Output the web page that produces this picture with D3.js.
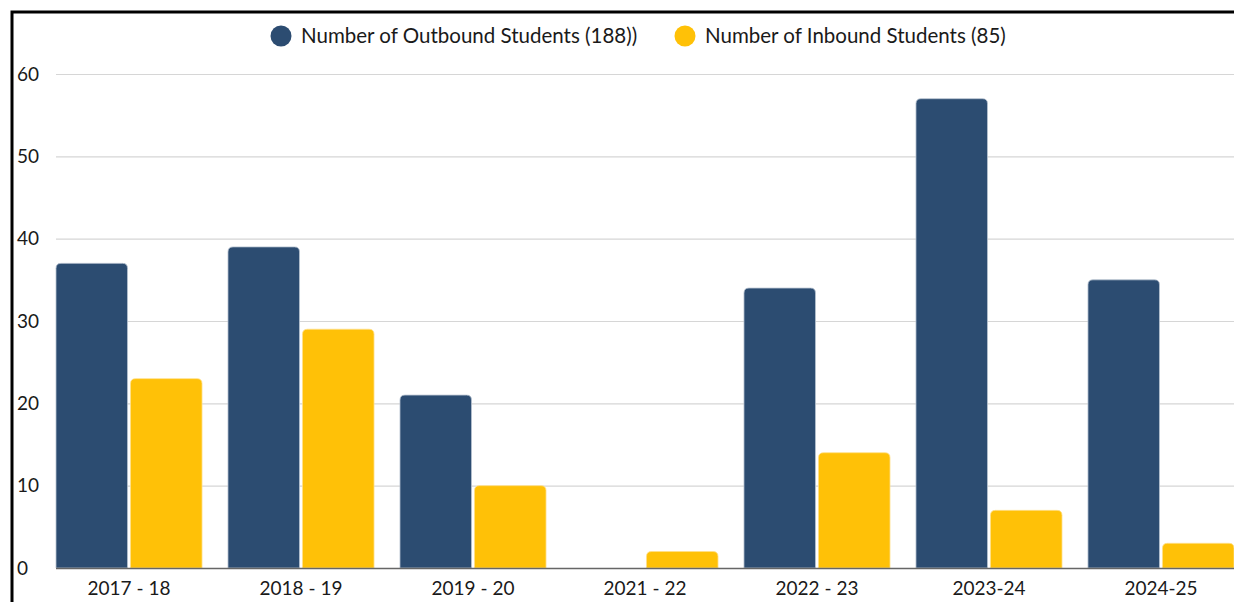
<!DOCTYPE html>
<html><head><meta charset="utf-8">
<script src="https://cdn.jsdelivr.net/npm/d3@7"></script>
<style>
html,body{margin:0;padding:0;background:#fff;}
svg{display:block;}
</style></head>
<body>
<script>
const categories = ["2017 - 18","2018 - 19","2019 - 20","2021 - 22","2022 - 23","2023-24","2024-25"];
const outbound = [37,39,21,0,34,57,35];
const inbound = [23,29,10,2,14,7,3];
const seriesNames = ["Number of Outbound Students (188))","Number of Inbound Students (85)"];
const yTicks = [0,10,20,30,40,50,60];
const colors = ["#2c4c71","#ffc107"];

(function(){
const W=1234,H=602;
const svg=d3.select("body").append("svg").attr("width",W).attr("height",H);
const font="Lato, 'Open Sans', sans-serif";

const pL=56,pR=1234,pT=74,pB=568;
const x=d3.scaleBand().domain(categories).range([pL,pR]).paddingInner(0.151).paddingOuter(0);
const xs=d3.scaleBand().domain([0,1]).range([0,x.bandwidth()]).paddingInner(0.04).paddingOuter(0);
const y=d3.scaleLinear().domain([0,60]).range([pB,pT]);

// grid
svg.append("g").selectAll("line").data(yTicks.filter(d=>d>0)).join("line")
  .attr("x1",pL).attr("x2",pR).attr("y1",d=>y(d)+0.5).attr("y2",d=>y(d)+0.5)
  .attr("stroke","#d6d6d6").attr("stroke-width",1.2);

// y labels
svg.append("g").selectAll("text").data(yTicks).join("text")
  .attr("x",17).attr("y",d=>y(d)).attr("dy","0.35em")
  .attr("font-family",font).attr("font-size",19).attr("fill","#1a1a1a").text(d=>d);

function barPath(x0,w,yTop,yBot,r){
  const h=yBot-yTop; if(h<=0) return "";
  r=Math.min(r,h,w/2);
  return `M${x0},${yBot}V${yTop+r}Q${x0},${yTop} ${x0+r},${yTop}H${x0+w-r}Q${x0+w},${yTop} ${x0+w},${yTop+r}V${yBot}Z`;
}
const rows=categories.map((c,i)=>({c,vals:[outbound[i],inbound[i]]}));
const g=svg.append("g");
rows.forEach(r=>{
  r.vals.forEach((v,j)=>{
    if(v<=0) return;
    g.append("path").attr("d",barPath(x(r.c)+xs(j),xs.bandwidth(),y(v),y(0),5))
      .attr("fill",colors[j]).attr("stroke",j===0?"#b7c3d1":"#ffe08a").attr("stroke-width",0.8);
  });
});

// baseline
svg.append("line").attr("x1",pL).attr("x2",pR).attr("y1",pB+0.5).attr("y2",pB+0.5)
  .attr("stroke","#666").attr("stroke-width",1.3);

// x labels
svg.append("g").selectAll("text").data(categories).join("text")
  .attr("x",d=>x(d)+x.bandwidth()/2).attr("y",588).attr("dy","0.35em").attr("text-anchor","middle")
  .attr("font-family",font).attr("font-size",19).attr("fill","#1a1a1a").text(d=>d);

// legend
const legX=[281,685];
seriesNames.forEach((n,i)=>{
  svg.append("circle").attr("cx",legX[i]).attr("cy",36).attr("r",10.5).attr("fill",colors[i]);
  svg.append("text").attr("x",legX[i]+20).attr("y",36).attr("dy","0.35em")
    .attr("font-family",font).attr("font-size",20.5).attr("fill","#1a1a1a").text(n);
});

// border
svg.append("path").attr("d","M12,602V12H1234").attr("fill","none").attr("stroke","#000").attr("stroke-width",3);
})();
</script>
</body></html>
